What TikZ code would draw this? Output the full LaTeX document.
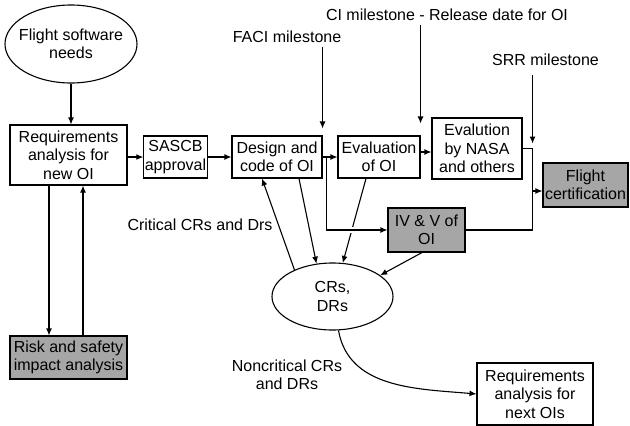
\documentclass[tikz,border=0pt]{standalone}
\usepackage{fontspec}
\setmainfont{Liberation Sans}
\usetikzlibrary{positioning, arrows.meta, calc, shapes.geometric}
\tikzset{
  lifecycle/.style={
	x=1pt, y=-1pt, % positions are given in points, y grows downwards
	line width=1.1pt,
	>={Latex[length=7pt,width=6pt]}, % small filled arrow heads
	font=\fontsize{16}{18.3}\selectfont,
	every node/.style={align=center},
  },
  activity/.style={draw, inner sep=1pt}, % plain process box
  review/.style={activity, fill=black!35}, % grey boxes
  pool/.style={ellipse, draw, inner xsep=-6pt}, % the size is fixed by minimum width/height
}

\begin{document}
\begin{tikzpicture}[lifecycle]
	  \useasboundingbox (0,0) rectangle (630,426);
	  \node[pool, minimum width=132, minimum height=78] (needs) at (71,44) {Flight software\\needs};
	  \node[activity, minimum width=117, minimum height=60] (reqnew) at (68.5,155) {Requirements\\analysis for\\new OI};
	  \node[activity, minimum width=63, minimum height=42] (sascb) at (175.5,157) {SASCB\\approval};
	  \node[activity, minimum width=90, minimum height=42] (design) at (277,157) {Design and\\code of OI};
	  \node[activity, minimum width=82, minimum height=42] (evaloi) at (379,157) {Evaluation\\of OI};
	  \node[activity, minimum width=90, minimum height=61] (nasa) at (477,148.5) {Evalution\\by NASA\\and others};
	  \node[review, minimum width=85, minimum height=44] (cert) at (585.5,185) {Flight\\certification};
	  \node[review, minimum width=77, minimum height=44] (ivv) at (426.5,230) {IV \& V of\\OI};
	  \node[pool, minimum width=121, minimum height=67] (crs) at (332.5,296.5) {CRs,\\DRs};
	  \node[review, minimum width=117, minimum height=43] (risk) at (68.5,357.5) {Risk and safety\\impact analysis};
	  \node[activity, minimum width=116, minimum height=62] (reqnext) at (535,394) {Requirements\\analysis for\\next OIs};
	  % milestones
	  \node (faci) at (287,37) {FACI milestone};
	  \node (ci) at (447,15) {CI milestone - Release date for OI};
	  \node (srr) at (545.5,60) {SRR milestone};
	  % edge labels
	  \node (critical) at (200,225) {Critical CRs and Drs};
	  \node (noncritical) at (287,375) {Noncritical CRs\\and DRs};
	  \coordinate (junction) at ($(nasa.east)+(10,0)$);
	  \coordinate (certin) at ([yshift=-6pt]cert.west);

	  \draw[->] (needs.south) -- (needs.south |- reqnew.north);
	  \draw[->] (reqnew.east |- sascb.west) -- (sascb.west);
	  \draw[->] (sascb) -- (design);
	  \draw[->] ([xshift=-19.5pt]reqnew.south) -- ([xshift=-19.5pt]risk.north);
	  \draw[->] ([xshift=14.5pt]risk.north) -- ([xshift=14.5pt]reqnew.south);
	  % change requests and discrepancy reports
	  \draw[->] ([xshift=22pt]design.south) -- (crs.116);
	  \draw[->] ([xshift=-13pt]evaloi.south) -- (crs.73);
	  \draw[->] (crs.145) -- ([xshift=-15pt]design.south);
	  \draw[->] ([xshift=-4.5pt]ivv.south) -- (crs.24);
	  \draw[->] (crs.-80) to[out=-80, in=175] (reqnext.west);
	  % branch to IV&V, cuts through the line below it
	  \draw[->, preaction={draw=white, line width=6pt, -, shorten >=3pt}] ($(design.east)+(4,0)$) |- (ivv.west);
	  \draw[->] (design) -- (evaloi);
	  \draw[->] ($(evaloi.east)+(0,-5)$) -- ($(evaloi.east -| nasa.west)+(0,-5)$);
	  \draw (nasa.east) -- (junction) |- (ivv.east);
	  \draw[->] (junction |- certin) -- (certin);
	  % milestone arrows
	  \draw[->] (faci.south -| design.north east) -- ([yshift=7pt]design.north east);
	  \draw[->] (ci.south -| evaloi.north east) -- ([yshift=12pt]evaloi.north east);
	  \draw[->, shorten <=5pt, shorten >=5pt] (srr.south -| junction) -- (junction);
\end{tikzpicture}
\end{document}
